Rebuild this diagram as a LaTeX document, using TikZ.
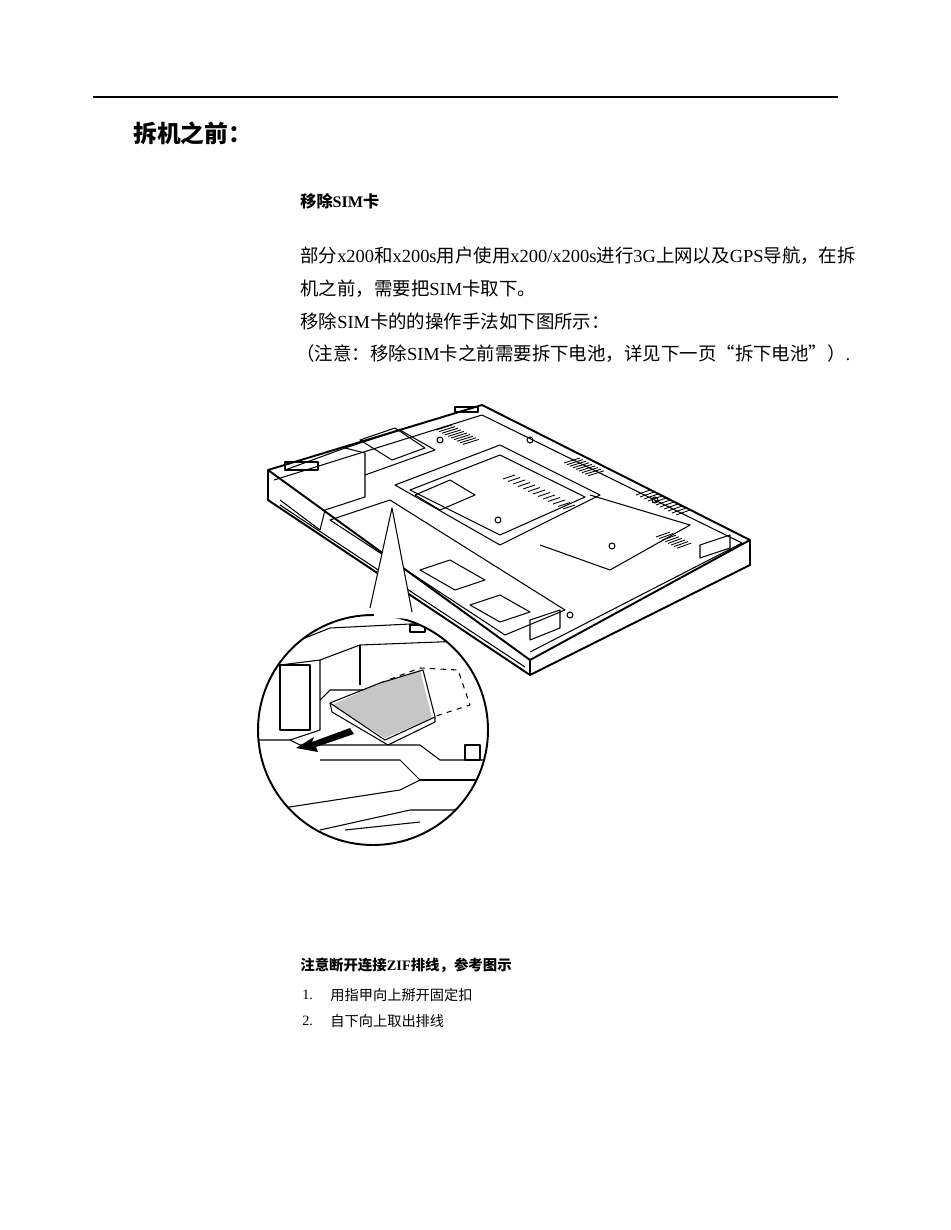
\documentclass[tikz,border=0pt]{standalone}
\usepackage{fontspec}
\setmainfont{Liberation Serif}
\newfontfamily\cjk{Noto Sans CJK SC}
\begin{document}
\begin{tikzpicture}[x=0.02cm,y=-0.02cm,
  body/.style={anchor=west,inner sep=0pt,font=\fontsize{10.5pt}{12pt}\selectfont},
  small/.style={anchor=west,inner sep=0pt,font=\fontsize{8.1pt}{9pt}\selectfont},
  ln/.style={line width=0.6pt,line join=round},
  thk/.style={line width=1.1pt,line join=round},
  vent/.style={line width=0.5pt}]
\useasboundingbox (0,0) rectangle (950,1230);
\draw[line width=0.6pt] (93,97) -- (838,97);
\node[body,font=\fontsize{13.5pt}{15pt}\selectfont\cjk\bfseries] (t) at (133,133) {拆机之前：};
\node[body,font=\fontsize{9.2pt}{10pt}\selectfont\bfseries] (s) at (300,201) {{\cjk 移除}SIM{\cjk 卡}};
\node[body] (p1) at (300,256) {{\cjk 部分}x200{\cjk 和}x200s{\cjk 用户使用}x200/x200s{\cjk 进行}3G{\cjk 上网以及}GPS{\cjk 导航，在拆}};
\node[body] (p2) at (300,289) {{\cjk 机之前，需要把}SIM{\cjk 卡取下。}};
\node[body] (p3) at (300,321) {{\cjk 移除}SIM{\cjk 卡的的操作手法如下图所示：}};
\node[body] (p4) at (296,354) {{\cjk （注意：移除}SIM{\cjk 卡之前需要拆下电池，详见下一页“拆下电池”）}.};
\node[small,font=\fontsize{8.2pt}{9pt}\selectfont\bfseries] (n) at (300,965) {{\cjk 注意断开连接}ZIF{\cjk 排线，参考图示}};
\node[small] (n1) at (302,995) {1.};
\node[small,font=\fontsize{8.1pt}{9pt}\selectfont\cjk] (n1t) at (330,995) {用指甲向上掰开固定扣};
\node[small] (n2) at (302,1021) {2.};
\node[small,font=\fontsize{8.1pt}{9pt}\selectfont\cjk] (n2t) at (330,1021) {自下向上取出排线};
% laptop
\draw[thk] (268,470) -- (482,405) -- (750,540) -- (530,660) -- cycle;
\draw[thk] (268,470) -- (268,500) -- (530,675) -- (750,565) -- (750,540);
\draw[thk] (530,660) -- (530,675);
\draw[ln] (274,480) -- (482,415) -- (742,543) -- (530,652);
\draw[ln] (280,505) -- (525,667);
% battery area
\draw[ln] (285,470) -- (345,448) -- (365,453) -- (365,497) -- (325,510) -- (320,530) -- (280,500);
\draw[ln] (345,448) -- (400,430) -- (435,450) -- (365,475);
\draw[ln] (360,440) -- (395,428) -- (425,448) -- (392,460) -- cycle;
% memory compartment
\draw[ln] (395,485) -- (500,445) -- (600,495) -- (500,545) -- cycle;
\draw[ln] (410,490) -- (500,455) -- (585,497) -- (500,535) -- cycle;
\draw[ln] (415,495) -- (450,480) -- (475,495) -- (440,510) -- cycle;
% hdd
\draw[ln] (590,495) -- (690,525) -- (610,570) -- (540,545);
% bottom cover
\draw[ln] (330,520) -- (390,500) -- (565,610) -- (505,635) -- cycle;
\draw[ln] (420,570) -- (450,560) -- (485,580) -- (455,590) -- cycle;
\draw[ln] (470,605) -- (500,595) -- (530,612) -- (500,622) -- cycle;
% vents: short parallel stripes
\foreach \i in {0,...,9} \draw[vent] (452+\i*3,425+\i*1.6) -- ++(-16,5);
\foreach \i in {0,...,8} \draw[vent] (580+\i*3,458+\i*1.6) -- ++(-16,5);
\foreach \i in {0,...,12} \draw[vent] (515+\i*5,475+\i*2.5) -- ++(-12,4);
\foreach \i in {0,...,10} \draw[vent] (650+\i*4,490+\i*2) -- ++(-14,5);
\foreach \i in {0,...,7} \draw[vent] (670+\i*3,532+\i*1.6) -- ++(-14,5);
\foreach \p in {(440,440),(530,440),(498,520),(612,546),(655,500),(570,615)} \draw[ln] \p circle (3);
\draw[ln] (285,470) rectangle (318,462);
\draw[ln] (455,412) rectangle (478,407);
\draw[ln] (700,545) -- (730,535) -- (730,548) -- (700,558) -- cycle;
\draw[ln] (530,620) -- (560,610) -- (560,628) -- (530,640) -- cycle;
% pointer
\coordinate (tip) at (392,508);
\draw[ln,fill=white] (370,608) -- (tip) -- (412,612);
% magnifier
\coordinate (c) at (373,730);
\begin{scope}
\clip (c) circle (115);
\fill[white] (c) circle (115);
\draw[ln] (255,650) -- (300,640) -- (330,628) -- (490,620);
\draw[ln] (280,665) -- (320,660) -- (320,730) -- (290,740);
\draw[ln] (320,660) -- (360,645) -- (490,640);
\draw[ln] (360,645) -- (360,685);
\draw[ln] (320,700) -- (330,690) -- (420,690);
\draw[ln] (255,740) -- (290,740) -- (300,745) -- (420,745) -- (440,760) -- (490,760);
\draw[ln] (320,760) -- (400,760) -- (420,780) -- (400,790) -- (270,810);
\draw[ln] (420,780) -- (490,780);
\draw[ln] (320,830) -- (410,810) -- (490,810);
\draw[ln] (345,830) -- (420,822);
\draw[ln] (465,745) rectangle (480,760);
\draw[ln] (410,625) rectangle (425,632);
\draw[ln] (280,665) rectangle (310,730);
% sim card
\draw[ln,dashed] (380,683) -- (420,668) -- (458,670) -- (470,705) -- (430,718);
\fill[gray!45] (332,705) -- (380,683) -- (420,670) -- (432,718) -- (385,738) -- cycle;
\draw[ln] (330,703) -- (380,683) -- (423,670) -- (435,717) -- (385,740) -- cycle;
\draw[ln] (330,703) -- (332,712) -- (388,745) -- (435,722) -- (435,717);
% arrow
\fill (350,728) -- (312,742) -- (314,737) -- (296,748) -- (318,752) -- (316,747) -- (354,734) -- cycle;
\end{scope}
\draw[thk] (c) circle (115);
\draw[line width=3pt,white] (374,615) -- (408,616);
\end{tikzpicture}
\end{document}
